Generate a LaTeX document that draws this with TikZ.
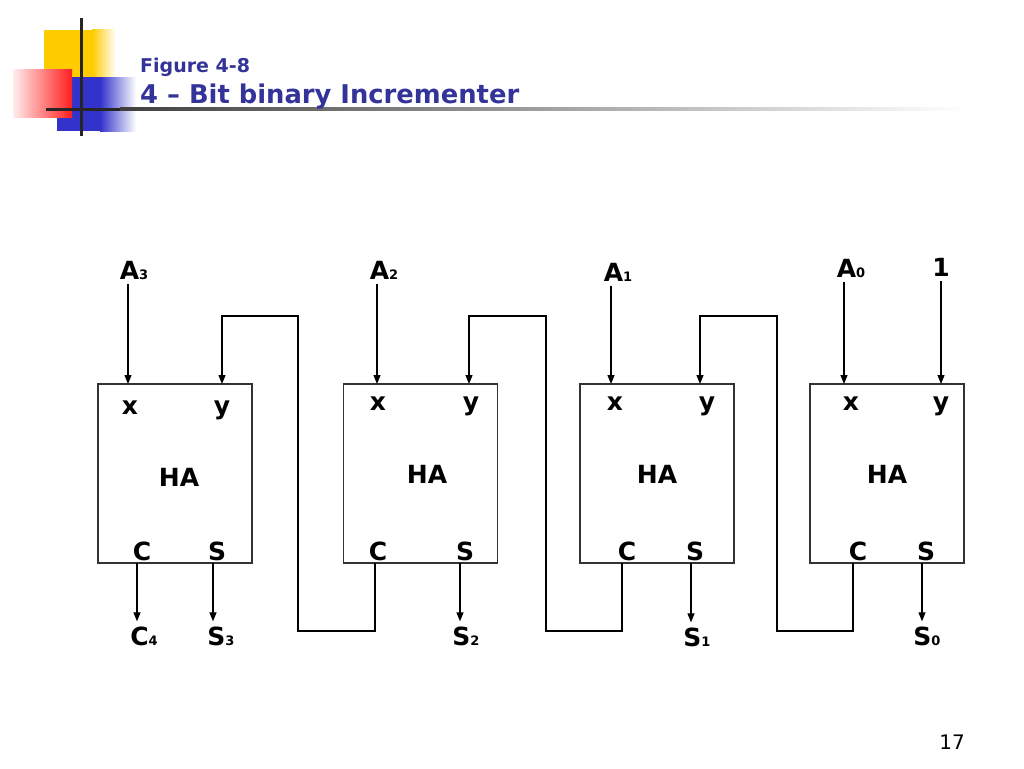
\documentclass[tikz,border=0pt]{standalone}
\usepackage{fontspec}
\setmainfont{DejaVu Sans}
\usetikzlibrary{arrows.meta}
\definecolor{titleblue}{RGB}{51,51,153}
\definecolor{decoyellow}{RGB}{255,204,0}
\definecolor{decoblue}{RGB}{51,51,204}
\definecolor{decored}{RGB}{255,30,30}
\newcommand{\bitsub}[1]{{\fontsize{13}{13}\selectfont #1}}

\begin{document}
\begin{tikzpicture}[x=1pt,y=-1pt,
	habox/.style={draw=black!80,line width=1.2pt,minimum width=154pt,minimum height=179pt,inner sep=0pt},
	pin/.style={font=\fontsize{25}{30}\selectfont\bfseries,inner sep=0pt},
	io/.style={font=\fontsize{25}{30}\selectfont\bfseries,inner sep=5pt},
	sig/.style={line width=1.2pt,-{Triangle[length=9pt,width=7pt]}}]
	
	\useasboundingbox (0,0) rectangle (1024,768);
	
	% corner decoration
	\fill[decoyellow] (44,30) rectangle (92,78);
	\shade[left color=decoyellow,right color=white] (92,30) rectangle (116,78);
	\fill[decoblue] (57,77) rectangle (100,131);
	\shade[left color=decoblue,right color=white] (100,77) rectangle (136,131);
	\shade[left color=decored!8,right color=decored] (13,69) rectangle (72,117);
	\fill[black!85] (46,107.5) rectangle (120,110.5);
	\shade[left color=black!75,right color=white] (120,107.5) rectangle (965,110.5);
	\fill[black!85] (79.5,18) rectangle (82.5,136);
	
	\node[anchor=base west,text=titleblue,font=\fontsize{19}{23}\selectfont\bfseries,inner sep=0pt] (fig) at (140,72) {Figure 4-8};
	\node[anchor=base west,text=titleblue,font=\fontsize{25.8}{30}\selectfont\bfseries,inner sep=0pt] (title) at (140,103) {4 – Bit binary Incrementer};
	
	% half adders
	\node[habox] (ha3) at (175,473.5) {};
	\node[habox] (ha2) at (420.5,473.5) {};
	\node[habox] (ha1) at (657,473.5) {};
	\node[habox] (ha0) at (887,473.5) {};
	
	\node[pin] (x3) at (130,408) {x};  \node[pin] (y3) at (222,410) {y};
	\node[pin] (h3) at (179,477) {HA};
	\node[pin] (c3) at (142,551) {C};  \node[pin] (s3) at (217,551) {S};
	
	\node[pin] (x2) at (378,404) {x};  \node[pin] (y2) at (471,406) {y};
	\node[pin] (h2) at (427,474) {HA};
	\node[pin] (c2) at (378,551) {C};  \node[pin] (s2) at (465,551) {S};
	
	\node[pin] (x1) at (615,404) {x};  \node[pin] (y1) at (707,406) {y};
	\node[pin] (h1) at (657,474) {HA};
	\node[pin] (c1) at (627,551) {C};  \node[pin] (s1) at (695,551) {S};
	
	\node[pin] (x0) at (851,404) {x};  \node[pin] (y0) at (941,406) {y};
	\node[pin] (h0) at (887,474) {HA};
	\node[pin] (c0) at (858,551) {C};  \node[pin] (s0) at (926,551) {S};
	
	% ports
	\coordinate (in3x) at (128,384);  \coordinate (in3y) at (222,384);
	\coordinate (in2x) at (377,384);  \coordinate (in2y) at (469,384);
	\coordinate (in1x) at (611,384);  \coordinate (in1y) at (700,384);
	\coordinate (in0x) at (844,384);  \coordinate (in0y) at (941,384);
	\coordinate (out3c) at (137,563);  \coordinate (out3s) at (213,563);
	\coordinate (out2c) at (375,563);  \coordinate (out2s) at (460,563);
	\coordinate (out1c) at (622,563);  \coordinate (out1s) at (691,563);
	\coordinate (out0c) at (853,563);  \coordinate (out0s) at (922,563);
	
	% inputs and outputs
	\node[io] (a3) at (134,270) {A\bitsub{3}};
	\node[io] (a2) at (384,270) {A\bitsub{2}};
	\node[io] (a1) at (618,272) {A\bitsub{1}};
	\node[io] (a0) at (851,268) {A\bitsub{0}};
	\node[io] (one) at (941,267) {1};
	\node[io] (c4) at (144,636) {C\bitsub{4}};
	\node[io] (sum3) at (221,636) {S\bitsub{3}};
	\node[io] (sum2) at (466,636) {S\bitsub{2}};
	\node[io] (sum1) at (697,637) {S\bitsub{1}};
	\node[io] (sum0) at (927,636) {S\bitsub{0}};
	
	\draw[sig] (in3x |- a3.south) -- (in3x);
	\draw[sig] (in2x |- a2.south) -- (in2x);
	\draw[sig] (in1x |- a1.south) -- (in1x);
	\draw[sig] (in0x |- a0.south) -- (in0x);
	\draw[sig] (in0y |- one.south) -- (in0y);
	
	\draw[sig] (out3c) -- (out3c |- c4.north);
	\draw[sig] (out3s) -- (out3s |- sum3.north);
	\draw[sig] (out2s) -- (out2s |- sum2.north);
	\draw[sig] (out1s) -- (out1s |- sum1.north);
	\draw[sig] (out0s) -- (out0s |- sum0.north);
	
	% carries
	\coordinate (lo3) at (298,631);  \coordinate (hi3) at (298,316);
	\coordinate (lo2) at (546,631);  \coordinate (hi2) at (546,316);
	\coordinate (lo1) at (777,631);  \coordinate (hi1) at (777,316);
	\draw[sig] (out2c) |- (lo3) -- (hi3) -| (in3y);
	\draw[sig] (out1c) |- (lo2) -- (hi2) -| (in2y);
	\draw[sig] (out0c) |- (lo1) -- (hi1) -| (in1y);
	
	\node[font=\fontsize{20}{24}\selectfont] (page) at (952,742) {17};
	
\end{tikzpicture}
\end{document}
